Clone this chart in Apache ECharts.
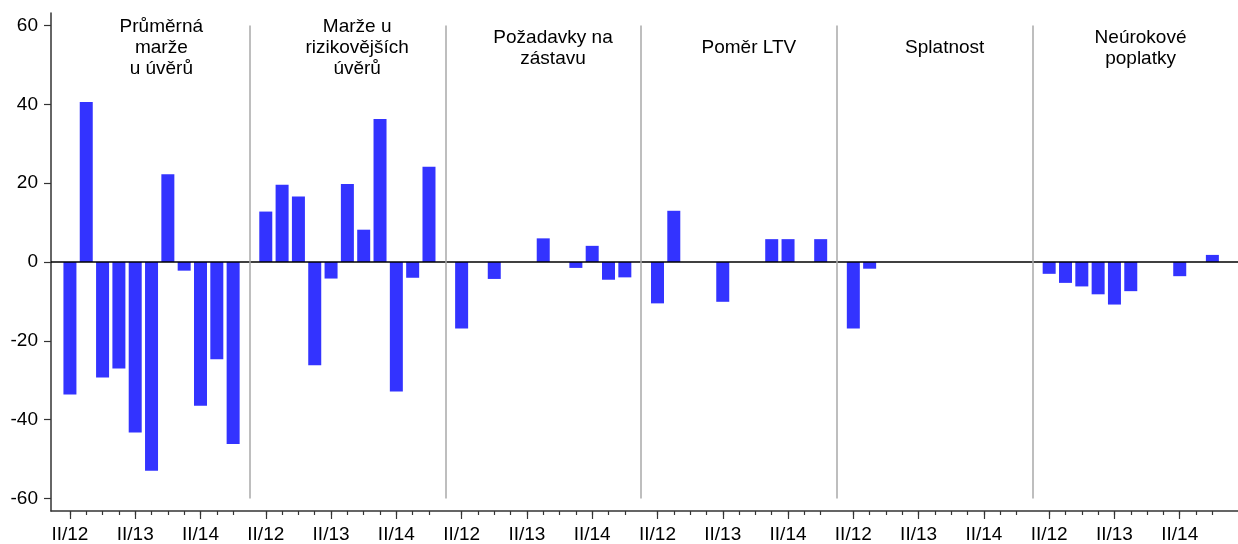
<!DOCTYPE html>
<html>
<head>
<meta charset="utf-8">
<script src="https://cdn.jsdelivr.net/npm/echarts@6/dist/echarts.min.js"></script>
<style>
  html, body { margin: 0; padding: 0; background: #fff; }
  #main { width: 1238px; height: 544px; }
</style>
</head>
<body>
<div id="main"></div>
<script>
// čtvrtletí v každém bloku
const quarters = ['II/12', 'III/12', 'IV/12', 'I/13', 'II/13', 'III/13', 'IV/13', 'I/14', 'II/14', 'III/14', 'IV/14'];
const groupNames = ['Průměrná\nmarže\nu úvěrů', 'Marže u\nrizikovějších\núvěrů', 'Požadavky na\nzástavu', 'Poměr LTV', 'Splatnost', 'Neúrokové\npoplatky'];

const prumernaMarze = [-33.6, 40.6, -29.3, -27.0, -43.3, -53.0, 22.3, -2.2, -36.5, -24.7, -46.2];
const marzeRizikove = [12.8, 19.6, 16.6, -26.2, -4.2, 19.8, 8.2, 36.3, -32.9, -4.0, 24.2];
const zastava = [-16.9, 0, -4.3, 0, 0, 6.0, 0, -1.5, 4.1, -4.5, -3.9];
const pomerLtv = [-10.5, 13.0, 0, 0, -10.1, 0, 0, 5.8, 5.8, 0, 5.8];
const splatnost = [-16.9, -1.7, 0, 0, 0, 0, 0, 0, 0, 0, 0];
const poplatky = [-3.0, -5.3, -6.2, -8.2, -10.8, -7.4, 0, 0, -3.6, 0, 1.8];

const yTicks = [-60, -40, -20, 0, 20, 40, 60];
const labeledQuarters = ['II/12', 'II/13', 'II/14'];

const groups = [prumernaMarze, marzeRizikove, zastava, pomerLtv, splatnost, poplatky];
const slot = quarters.length + 1; // 11 čtvrtletí + mezera

const barData = [];
const tickPos = [];
const labelPos = [];
const sepPos = [];
const titlePos = [];
groups.forEach((vals, g) => {
  vals.forEach((v, k) => {
    barData.push([g * slot + k, v]);
    tickPos.push(g * slot + k);
    if (labeledQuarters.indexOf(quarters[k]) >= 0) labelPos.push(g * slot + k);
  });
  if (g < groups.length - 1) sepPos.push(g * slot + quarters.length);
  titlePos.push(g * slot + 5.6);
});

const font = 'Liberation Sans, Arial, sans-serif';
const xMin = -1.16, xMax = 71.57;

const myChart = echarts.init(document.getElementById('main'));
const option = {
  animation: false,
  grid: { left: 51, right: 0, top: 13, bottom: 32 },
  xAxis: [
    {
      type: 'value', min: xMin, max: xMax, position: 'bottom',
      splitLine: { show: false },
      axisLine: { onZero: false, lineStyle: { color: '#333', width: 1.5 } },
      axisTick: { customValues: tickPos, length: 4, lineStyle: { color: '#333', width: 1.2 } },
      axisLabel: {
        customValues: labelPos, margin: 14, color: '#000', fontSize: 19, fontFamily: font,
        formatter: v => quarters[Math.round(v) % slot]
      }
    },
    {
      // delší ticky u popisků
      type: 'value', min: xMin, max: xMax, position: 'bottom',
      splitLine: { show: false }, axisLine: { show: false, onZero: false },
      axisTick: { customValues: labelPos, length: 8, lineStyle: { color: '#333', width: 1.2 } },
      axisLabel: { show: false }
    },
    {
      // názvy bloků nahoře
      type: 'value', min: xMin, max: xMax, position: 'top',
      splitLine: { show: false }, axisLine: { show: false, onZero: false }, axisTick: { show: false },
      axisLabel: {
        inside: true, customValues: titlePos, margin: 35, verticalAlign: 'middle',
        color: '#000', fontSize: 19, lineHeight: 21, fontFamily: font, align: 'center',
        formatter: v => groupNames[titlePos.indexOf(v)]
      }
    }
  ],
  yAxis: {
    type: 'value', min: -63.2, max: 63.2,
    splitLine: { show: false },
    axisLine: { show: true, onZero: false, lineStyle: { color: '#333', width: 1.5 } },
    axisTick: { show: true, customValues: yTicks, length: 7, lineStyle: { color: '#333', width: 1.2 } },
    axisLabel: { customValues: yTicks, margin: 13, color: '#000', fontSize: 19, fontFamily: font }
  },
  series: [
    {
      type: 'bar',
      data: barData,
      barWidth: 13,
      itemStyle: { color: '#3333ff' },
      markLine: {
        silent: true,
        symbol: 'none',
        label: { show: false },
        data: [
          { yAxis: 0, lineStyle: { color: '#000', width: 1.5, type: 'solid' } }
        ].concat(sepPos.map(s => [
          { coord: [s, -60], lineStyle: { color: '#a8a8a8', width: 1.5, type: 'solid' } },
          { coord: [s, 60] }
        ]))
      }
    }
  ]
};

option && myChart.setOption(option);
</script>
</body>
</html>
